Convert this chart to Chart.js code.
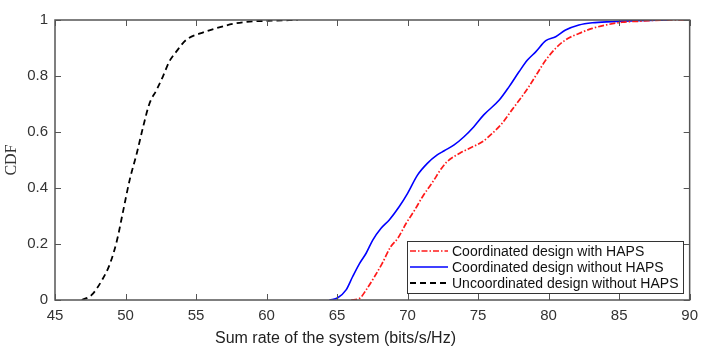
<!DOCTYPE html>
<html lang="en">
<head>
    <meta charset="UTF-8">
    <title>CDF of sum rate</title>
    <script src="https://cdn.jsdelivr.net/npm/chart.js"></script>
    <style>
        body { margin: 0; background: #fff; }
        #wrap { position: relative; width: 705px; height: 354px; }
        #xTitle {
            position: absolute;
            left: 215px;
            top: 329px;
            font-family: 'Liberation Sans', Arial, sans-serif;
            font-size: 16px;
            color: #222;
            white-space: nowrap;
        }
    </style>
</head>
<body>
<div id="wrap">
    <canvas id="myChart" width="705" height="354"></canvas>
    <div id="xTitle">Sum rate of the system (bits/s/Hz)</div>
</div>
<script>
    // 坐标轴刻度
    const xTicks = [45, 50, 55, 60, 65, 70, 75, 80, 85, 90];
    const yTicks = [0, 0.2, 0.4, 0.6, 0.8, 1];

    // Coordinated design with HAPS (red, dash-dot)
    const withHapsX = [66.0, 66.6, 67.06, 67.65, 68.2, 68.8, 69.3, 69.9, 70.5, 71.06, 71.8, 72.4, 72.8, 73.7, 74.4, 75.3, 76.0, 76.7, 77.4, 78.1, 78.6, 79.2, 79.8, 80.5, 81.2, 82.15, 83.1, 84.05, 85.2, 86.6, 88.3, 90];
    const withHapsY = [0, 0.006, 0.036, 0.083, 0.131, 0.19, 0.22, 0.274, 0.321, 0.369, 0.423, 0.47, 0.494, 0.524, 0.542, 0.565, 0.595, 0.631, 0.679, 0.726, 0.762, 0.81, 0.857, 0.899, 0.929, 0.952, 0.97, 0.982, 0.992, 0.996, 1.0, 1.0];

    // Coordinated design without HAPS (blue, solid)
    const withoutHapsX = [64.46, 65.05, 65.64, 66.1, 66.6, 67.06, 67.53, 68.12, 68.7, 69.4, 70.0, 70.7, 71.4, 72.1, 72.6, 73.3, 74.0, 74.7, 75.4, 76.5, 77.2, 77.9, 78.5, 79.1, 79.8, 80.5, 81.2, 82.15, 83.1, 84.5, 85.9, 88.5];
    const withoutHapsY = [0, 0.008, 0.036, 0.083, 0.131, 0.167, 0.214, 0.256, 0.286, 0.333, 0.381, 0.446, 0.488, 0.518, 0.533, 0.554, 0.583, 0.619, 0.661, 0.714, 0.762, 0.815, 0.857, 0.887, 0.926, 0.94, 0.964, 0.982, 0.99, 0.994, 0.997, 1.0];

    // Uncoordinated design without HAPS (black, dashed)
    const uncoordX = [46.9, 47.6, 48.4, 48.9, 49.4, 49.8, 50.3, 50.8, 51.25, 51.7, 52.2, 52.65, 53.1, 53.6, 54.3, 55.3, 56.4, 57.6, 58.8, 60.0, 62.2];
    const uncoordY = [0, 0.018, 0.077, 0.13, 0.214, 0.31, 0.43, 0.524, 0.619, 0.702, 0.75, 0.798, 0.851, 0.887, 0.929, 0.952, 0.97, 0.986, 0.994, 0.997, 1.0];

    const seriesLabels = [
        'Coordinated design with HAPS',
        'Coordinated design without HAPS',
        'Uncoordinated design without HAPS'
    ];

    function toPoints(xs, ys) {
        return xs.map((x, i) => ({ x: x, y: ys[i] }));
    }

    const dashStyles = [[6, 2, 1.5, 2], [], [6, 4]];

    // 坐标框 + 向内的刻度 + 图例
    const boxPlugin = {
        id: 'boxPlugin',
        afterDatasetsDraw(chart) {
            const c = chart.ctx;
            const a = chart.chartArea;
            const xs = chart.scales.x;
            const ys = chart.scales.y;
            const tl = 6;
            c.save();
            c.strokeStyle = '#555';
            c.lineWidth = 1.5;
            c.setLineDash([]);
            c.strokeRect(a.left, a.top, a.right - a.left, a.bottom - a.top);
            c.lineWidth = 1;
            c.beginPath();
            xTicks.forEach(v => {
                const px = Math.round(xs.getPixelForValue(v)) + 0.5;
                c.moveTo(px, a.bottom); c.lineTo(px, a.bottom - tl);
                c.moveTo(px, a.top); c.lineTo(px, a.top + tl);
            });
            yTicks.forEach(v => {
                const py = Math.round(ys.getPixelForValue(v)) + 0.5;
                c.moveTo(a.left, py); c.lineTo(a.left + tl, py);
                c.moveTo(a.right, py); c.lineTo(a.right - tl, py);
            });
            c.stroke();

            // legend
            const lx = 407, ly = 241, lw = 276, lh = 52;
            c.fillStyle = '#fff';
            c.fillRect(lx, ly, lw, lh);
            c.strokeStyle = '#333';
            c.lineWidth = 1;
            c.strokeRect(lx + 0.5, ly + 0.5, lw, lh);
            c.font = '14px "Liberation Sans", Arial, sans-serif';
            c.textBaseline = 'middle';
            c.textAlign = 'left';
            chart.data.datasets.forEach((ds, i) => {
                const ry = ly + 10 + i * 16;
                c.strokeStyle = ds.borderColor;
                c.lineWidth = ds.borderWidth;
                c.setLineDash(dashStyles[i]);
                c.beginPath();
                c.moveTo(lx + 3, ry);
                c.lineTo(lx + 41, ry);
                c.stroke();
                c.setLineDash([]);
                c.fillStyle = '#111';
                c.fillText(ds.label, lx + 45, ry + 1);
            });
            c.restore();
        }
    };

    const ctx = document.getElementById('myChart').getContext('2d');
    const myChart = new Chart(ctx, {
        type: 'line',
        data: {
            datasets: [
                {
                    label: seriesLabels[0],
                    data: toPoints(withHapsX, withHapsY),
                    borderColor: '#ff1a1a',
                    borderWidth: 1.7,
                    borderDash: dashStyles[0],
                    pointRadius: 0,
                    cubicInterpolationMode: 'monotone',
                    fill: false
                },
                {
                    label: seriesLabels[1],
                    data: toPoints(withoutHapsX, withoutHapsY),
                    borderColor: '#0000ff',
                    borderWidth: 1.6,
                    borderDash: dashStyles[1],
                    pointRadius: 0,
                    cubicInterpolationMode: 'monotone',
                    fill: false
                },
                {
                    label: seriesLabels[2],
                    data: toPoints(uncoordX, uncoordY),
                    borderColor: '#000',
                    borderWidth: 1.8,
                    borderDash: dashStyles[2],
                    pointRadius: 0,
                    cubicInterpolationMode: 'monotone',
                    fill: false
                }
            ]
        },
        options: {
            responsive: false,
            animation: false,
            layout: { padding: { left: 0, right: 14, top: 20, bottom: 0 } },
            plugins: {
                legend: { display: false },
                tooltip: { enabled: false }
            },
            scales: {
                x: {
                    type: 'linear',
                    min: 45,
                    max: 90,
                    afterFit: s => { s.height = 54; },
                    afterBuildTicks: s => { s.ticks = xTicks.map(v => ({ value: v })); },
                    grid: { display: false, drawTicks: false },
                    border: { display: false },
                    ticks: {
                        padding: 7,
                        maxRotation: 0,
                        color: '#333',
                        callback: v => String(v),
                        font: { family: '"Liberation Sans", Arial, sans-serif', size: 15 }
                    }
                },
                y: {
                    type: 'linear',
                    min: 0,
                    max: 1,
                    afterFit: s => { s.width = 55; },
                    afterBuildTicks: s => { s.ticks = yTicks.map(v => ({ value: v })); },
                    grid: { display: false, drawTicks: false },
                    border: { display: false },
                    ticks: {
                        padding: 7,
                        color: '#333',
                        callback: v => String(v),
                        font: { family: '"Liberation Sans", Arial, sans-serif', size: 15 }
                    },
                    title: {
                        display: true,
                        text: 'CDF',
                        color: '#333',
                        padding: { top: 2, bottom: 0 },
                        font: { family: '"Liberation Serif", "Times New Roman", serif', size: 16 }
                    }
                }
            }
        },
        plugins: [boxPlugin]
    });
</script>
</body>
</html>
